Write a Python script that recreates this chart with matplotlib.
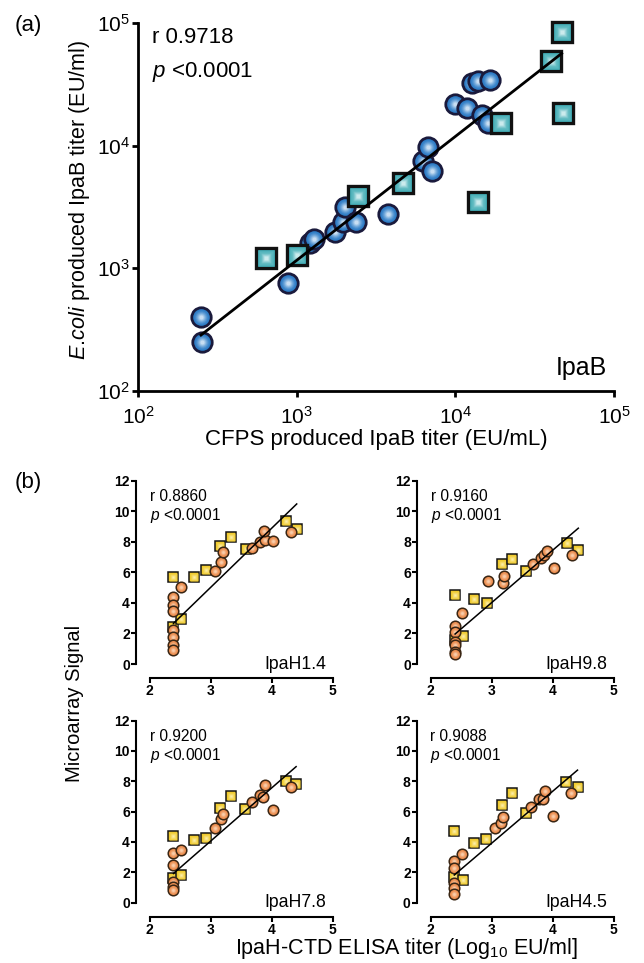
import numpy as np
import matplotlib
matplotlib.use("Agg")
import matplotlib.pyplot as plt
from matplotlib.ticker import LogLocator, LogFormatterMathtext, NullLocator
from matplotlib.colors import to_rgb

plt.rcParams['font.family'] = ['Liberation Sans', 'DejaVu Sans']
plt.rcParams['mathtext.fontset'] = 'custom'
plt.rcParams['mathtext.rm'] = 'Liberation Sans'
plt.rcParams['mathtext.it'] = 'Liberation Sans:italic'
plt.rcParams['mathtext.bf'] = 'Liberation Sans:bold'

# ---------------- data: panel (a) IpaB ----------------
ipab_circ_x = [249, 252, 886, 1220, 1280, 1742, 1966, 2015, 2355, 3786, 6220, 6755, 7100,
               9930, 11880, 12650, 13900, 16500, 14630, 16100]
ipab_circ_y = [404, 252, 764, 1610, 1720, 1964, 2400, 3178, 2400, 2774, 7450, 9800, 6240,
               21800, 20100, 32200, 33500, 34300, 17760, 15200]
ipab_sq_x = [641, 1000, 2444, 4655, 13970, 19360, 39800, 46700, 47900]
ipab_sq_y = [1206, 1282, 3880, 4990, 3490, 15200, 48900, 84900, 18500]
ipab_fit = (1.01, 0.035)          # log10(y) = a*log10(x) + b
ipab_fit_range = (2.397, 4.670)   # log10(x) range of the fit line
ipab_r = "0.9718"

# ---------------- data: panel (b) IpaH ----------------
h14_sq_x = [2.39, 2.39, 2.52, 2.72, 2.92, 3.15, 3.33, 3.58, 4.23, 4.41]
h14_sq_y = [5.67, 2.44, 2.92, 5.72, 6.15, 7.72, 8.33, 7.51, 9.38, 8.84]
h14_ci_x = [2.39, 2.39, 2.39, 2.39, 2.39, 2.39, 2.39, 2.52, 3.07, 3.17, 3.20, 3.67, 3.80, 3.89, 3.88, 4.02, 4.32]
h14_ci_y = [4.36, 3.86, 3.49, 2.22, 1.79, 1.24, 0.92, 5.06, 6.11, 6.70, 7.35, 7.57, 8.01, 8.10, 8.73, 8.05, 8.66]
h14_fit = (3.87, -6.59)

h98_sq_x = [2.40, 2.40, 2.53, 2.71, 2.92, 3.17, 3.34, 3.57, 4.23, 4.42]
h98_sq_y = [4.52, 1.57, 1.85, 4.23, 4.01, 6.55, 6.85, 6.11, 7.90, 7.46]
h98_ci_x = [2.40, 2.40, 2.40, 2.40, 2.40, 2.40, 2.52, 2.94, 3.19, 3.20, 3.68, 3.81, 3.86, 3.90, 4.02, 4.32]
h98_ci_y = [2.51, 2.12, 1.46, 1.24, 0.81, 0.65, 3.32, 5.46, 5.28, 5.76, 6.52, 6.96, 7.13, 7.42, 6.26, 7.13]
h98_fit = (3.43, -6.27)

h78_sq_x = [2.39, 2.39, 2.52, 2.72, 2.92, 3.15, 3.33, 3.57, 4.23, 4.40]
h78_sq_y = [4.38, 1.60, 1.82, 4.16, 4.27, 6.26, 7.00, 6.18, 8.01, 7.79]
h78_ci_x = [2.39, 2.39, 2.39, 2.39, 2.39, 2.52, 3.07, 3.17, 3.20, 3.67, 3.80, 3.85, 3.89, 4.02, 4.32]
h78_ci_y = [3.28, 2.47, 1.38, 1.05, 0.83, 3.50, 4.93, 5.50, 5.87, 6.64, 7.12, 6.96, 7.72, 6.13, 7.62]
h78_fit = (3.50, -6.44)

h45_sq_x = [2.39, 2.39, 2.53, 2.72, 2.91, 3.17, 3.34, 3.57, 4.22, 4.41]
h45_sq_y = [4.73, 1.71, 1.49, 3.91, 4.18, 6.42, 7.25, 5.89, 7.98, 7.60]
h45_ci_x = [2.39, 2.39, 2.39, 2.39, 2.39, 2.51, 3.05, 3.16, 3.19, 3.65, 3.78, 3.84, 3.87, 4.01, 4.31]
h45_ci_y = [2.75, 2.31, 1.27, 0.95, 0.57, 3.19, 4.90, 5.23, 5.67, 6.29, 6.86, 6.86, 7.34, 5.74, 7.20]
h45_fit = (3.42, -6.35)

panel_names = ["IpaH1.4", "IpaH9.8", "IpaH7.8", "IpaH4.5"]
panel_r = ["0.8860", "0.9160", "0.9200", "0.9088"]
panel_sq_x = [h14_sq_x, h98_sq_x, h78_sq_x, h45_sq_x]
panel_sq_y = [h14_sq_y, h98_sq_y, h78_sq_y, h45_sq_y]
panel_ci_x = [h14_ci_x, h98_ci_x, h78_ci_x, h45_ci_x]
panel_ci_y = [h14_ci_y, h98_ci_y, h78_ci_y, h45_ci_y]
panel_fit = [h14_fit, h98_fit, h78_fit, h45_fit]

W, H = 644, 963
fig = plt.figure(figsize=(W / 100, H / 100), dpi=100)


def mix(c1, c2, t):
    a = np.array(to_rgb(c1)); b = np.array(to_rgb(c2))
    return tuple(a + (b - a) * t)


def grad_markers(ax, xs, ys, marker, ms, mew, edge, c_out, c_in, z0, n=7, power=1.5):
    for i, (xi, yi) in enumerate(zip(xs, ys)):
        z = z0 + i * 0.01
        ax.plot([xi], [yi], marker=marker, ms=ms, mfc=c_out, mec=edge, mew=mew,
                ls='none', zorder=z, clip_on=False)
        inner = ms - mew
        for k in range(1, n):
            t = k / n
            ax.plot([xi], [yi], marker=marker, ms=inner * (1 - 0.88 * t),
                    mfc=mix(c_out, c_in, t ** power), mec='none', ls='none',
                    zorder=z + 0.0005 * k, clip_on=False)


def px_ax(left, top, right, bottom):
    return fig.add_axes([left / W, 1 - bottom / H, (right - left) / W, (bottom - top) / H])


# ---------------- panel (a) ----------------
ax = px_ax(138, 23, 614, 391)
ax.set_xscale('log'); ax.set_yscale('log')
ax.set_xlim(1e2, 1e5); ax.set_ylim(1e2, 1e5)
for s in ['top', 'right']:
    ax.spines[s].set_visible(False)
for s in ['left', 'bottom']:
    ax.spines[s].set_linewidth(2.0)
ax.xaxis.set_major_locator(LogLocator(base=10, numticks=10))
ax.yaxis.set_major_locator(LogLocator(base=10, numticks=10))
ax.xaxis.set_minor_locator(NullLocator()); ax.yaxis.set_minor_locator(NullLocator())
ax.xaxis.set_major_formatter(LogFormatterMathtext())
ax.yaxis.set_major_formatter(LogFormatterMathtext())
ax.tick_params(axis='both', direction='out', length=4, width=2, labelsize=15)
ax.tick_params(axis='x', pad=7)
ax.tick_params(axis='y', pad=2)

grad_markers(ax, ipab_circ_x, ipab_circ_y, 'o', 14.0, 2.0, '#1a1a3c', '#2d7cc6', '#f0f8ff', 3)
grad_markers(ax, ipab_sq_x, ipab_sq_y, 's', 15.0, 2.4, '#111111', '#3eaab3', '#f0fcfc', 4)
lx = np.array(ipab_fit_range)
ax.plot(10 ** lx, 10 ** (ipab_fit[0] * lx + ipab_fit[1]), color='black', lw=2.0, zorder=5)

ax.text(0.029, 0.946, "r " + ipab_r, transform=ax.transAxes, fontsize=16, va='baseline', ha='left')
ax.text(0.029, 0.853, r"$\mathit{p}$ <0.0001", transform=ax.transAxes, fontsize=16, va='baseline', ha='left')
ax.text(0.985, 0.0435, "IpaB", transform=ax.transAxes, fontsize=18, va='baseline', ha='right')

fig.text(376 / W, 1 - 439 / H, "CFPS produced IpaB titer (EU/mL)", fontsize=16, ha='center', va='center')
fig.text(80 / W, 1 - 200 / H, r"$\mathit{E.\!coli}$ produced IpaB titer (EU/ml)", fontsize=15.5,
         ha='center', va='center', rotation=90)
fig.text(28 / W, 1 - 25 / H, "(a)", fontsize=16, ha='center', va='center')

# ---------------- panel (b) ----------------
boxes = [(149.7, 480.7, 332.7, 664.0), (430.7, 480.7, 613.7, 664.0),
         (149.7, 720.5, 332.7, 902.7), (430.5, 720.5, 613.5, 902.7)]
for i, (l, t, r, b) in enumerate(boxes):
    a = px_ax(l, t, r, b)
    a.set_xlim(2, 5); a.set_ylim(0, 12)
    for s in ['top', 'right']:
        a.spines[s].set_visible(False)
    for s in ['left', 'bottom']:
        a.spines[s].set_linewidth(1.5)
        a.spines[s].set_position(('outward', 10))
    a.spines['left'].set_bounds(0, 12)
    a.spines['bottom'].set_bounds(2, 5)
    a.set_xticks([2, 3, 4, 5]); a.set_yticks([0, 2, 4, 6, 8, 10, 12])
    a.tick_params(axis='both', direction='out', length=3.5, width=1.5, labelsize=10, pad=0.8)
    for lab in a.get_xticklabels() + a.get_yticklabels():
        lab.set_fontweight('bold')

    grad_markers(a, panel_sq_x[i], panel_sq_y[i], 's', 7.8, 1.1, '#151515', '#f0c928', '#fffbd8', 3, n=5)
    grad_markers(a, panel_ci_x[i], panel_ci_y[i], 'o', 7.6, 1.1, '#3a2614', '#ec8d4e', '#fde6d0', 4, n=5)
    allx = np.array(panel_sq_x[i] + panel_ci_x[i])
    fx = np.array([allx.min(), allx.max()])
    sl, ic = panel_fit[i]
    a.plot(fx, sl * fx + ic, color='black', lw=1.1, zorder=6, clip_on=False)

    a.text(0.0, 0.89, "r " + panel_r[i], transform=a.transAxes, fontsize=11.2, va='baseline', ha='left')
    a.text(0.0, 0.785, r"$\mathit{p}$ <0.0001", transform=a.transAxes, fontsize=11.2, va='baseline', ha='left')
    a.text(0.965, -0.025, panel_names[i], transform=a.transAxes, fontsize=12.7, va='baseline', ha='right')

fig.text(407 / W, 1 - 948 / H, r"IpaH-CTD ELISA titer (Log$_{10}$ EU/ml]", fontsize=15.5,
         ha='center', va='center')
fig.text(75 / W, 1 - 703 / H, "Microarray Signal", fontsize=14.5, ha='center', va='center', rotation=90)
fig.text(28 / W, 1 - 482 / H, "(b)", fontsize=16, ha='center', va='center')

fig.savefig("out.png", dpi=100)
